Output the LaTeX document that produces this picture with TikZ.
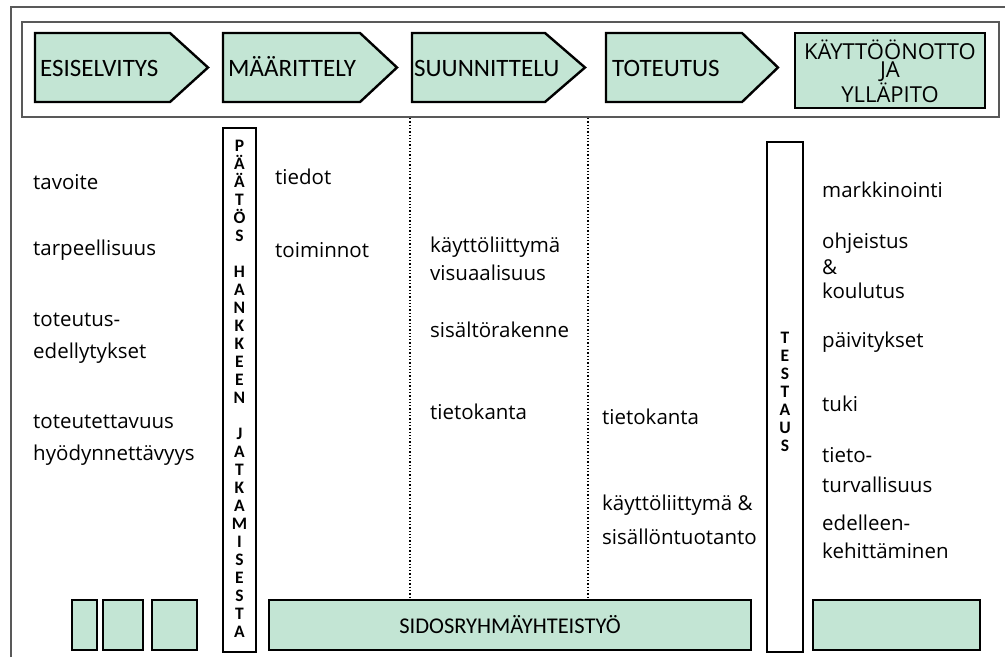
\documentclass[tikz,border=0pt]{standalone}
\usepackage{fontspec}
\setmainfont{Open Sans}
\newfontfamily\hdrfont{Carlito}
\definecolor{mint}{RGB}{195,229,212}
\begin{document}
\begin{tikzpicture}[x=1pt,y=-1pt,
  chev/.style={draw=black, line width=2.4pt, fill=mint, line join=miter},
  boxb/.style={draw=black, line width=2.6pt, fill=mint},
  lbl/.style={anchor=west, inner sep=0, font=\fontsize{20.5}{24}\selectfont},
  hdr/.style={anchor=base west, inner sep=0, font=\hdrfont\fontsize{25}{26}\selectfont},
  vtxt/.style={inner sep=0, align=center, font=\hdrfont\bfseries\fontsize{17.5}{18}\selectfont},
  framel/.style={draw=black!65, line width=1.4pt},
  dots/.style={dotted, line width=1.3pt}]
\useasboundingbox (0,0) rectangle (1005,657);
\fill[white] (0,0) rectangle (1005,657);
% frames
\draw[framel] (11,657) -- (11,7) -- (1005,7);
\draw[draw=black!65, line width=1.2pt] (22,22) rectangle (999,117);
% dotted separators
\coordinate (d1t) at (410,118); \coordinate (d1b) at (410,599);
\coordinate (d2t) at (588,118); \coordinate (d2b) at (588,599);
\draw[dots] (d1t) -- (d1b);
\draw[dots] (d2t) -- (d2b);
% chevrons
\draw[chev] (35,33) -- (170,33) -- (208,67.5) -- (170,102) -- (35,102) -- cycle;
\draw[chev] (223,33) -- (360,33) -- (397,67.5) -- (360,102) -- (223,102) -- cycle;
\draw[chev] (412,33) -- (545,33) -- (585,67.5) -- (545,102) -- (412,102) -- cycle;
\draw[chev] (606,33) -- (742,33) -- (778,67.5) -- (742,102) -- (606,102) -- cycle;
\draw[chev] (795,33) rectangle (985,108);
\node[hdr] (h1) at (40,76) {ESISELVITYS};
\node[hdr] (h2) at (228,76) {MÄÄRITTELY};
\node[hdr] (h3) at (414,76) {SUUNNITTELU};
\node[hdr] (h4) at (612,76) {TOTEUTUS};
\node[inner sep=0, align=center, font=\fontsize{22}{18.5}\selectfont] (h5) at (890,71) {KÄYTTÖÖNOTTO\\JA\\YLLÄPITO};
% vertical boxes
\draw[draw=black, line width=1.2pt, fill=white] (223,128) rectangle (256,652);
\node[vtxt] (paatos) at (239.5,389) {P\\Ä\\Ä\\T\\Ö\\S\\[18pt]H\\A\\N\\K\\K\\E\\E\\N\\[18pt]J\\A\\T\\K\\A\\M\\I\\S\\E\\S\\T\\A};
\draw[draw=black, line width=1.2pt, fill=white] (767,142) rectangle (803,652);
\node[vtxt] (testaus) at (785,392) {T\\E\\S\\T\\A\\U\\S};
% column 1
\node[lbl] (c1a) at (33,182) {tavoite};
\node[lbl] (c1b) at (33,250) {tarpeellisuus};
\node[lbl] (c1c) at (33,320) {toteutus-};
\node[lbl] (c1d) at (33,353) {edellytykset};
\node[lbl] (c1e) at (33,422) {toteutettavuus};
\node[lbl] (c1f) at (33,455) {hyödynnettävyys};
% column 2
\node[lbl] (c2a) at (275,177) {tiedot};
\node[lbl] (c2b) at (275,250) {toiminnot};
% column 3
\node[lbl] (c3a) at (430,247) {käyttöliittymä};
\node[lbl] (c3b) at (430,273) {visuaalisuus};
\node[lbl] (c3c) at (430,330) {sisältörakenne};
\node[lbl] (c3d) at (430,412) {tietokanta};
% column 4
\node[lbl] (c4a) at (602,417) {tietokanta};
\node[lbl] (c4b) at (602,505) {käyttöliittymä \&};
\node[lbl] (c4c) at (602,537) {sisällöntuotanto};
% column 5
\node[lbl] (c5a) at (822,190) {markkinointi};
\node[lbl] (c5b) at (822,243) {ohjeistus};
\node[lbl] (c5c) at (822,267) {\&};
\node[lbl] (c5d) at (822,291) {koulutus};
\node[lbl] (c5e) at (822,342) {päivitykset};
\node[lbl] (c5f) at (822,404) {tuki};
\node[lbl] (c5g) at (822,455) {tieto-};
\node[lbl] (c5h) at (822,485) {turvallisuus};
\node[lbl] (c5i) at (822,523) {edelleen-};
\node[lbl] (c5j) at (822,551) {kehittäminen};
% bottom boxes
\draw[boxb] (72,600) rectangle (97,650);
\draw[boxb] (103,600) rectangle (143,650);
\draw[boxb] (152,600) rectangle (197,650);
\draw[boxb] (269,600) rectangle (751,650);
\draw[boxb] (813,600) rectangle (980,650);
\node[inner sep=0, font=\hdrfont\fontsize{22.5}{22}\selectfont] (sidos) at (510,625) {SIDOSRYHMÄYHTEISTYÖ};
\end{tikzpicture}
\end{document}
